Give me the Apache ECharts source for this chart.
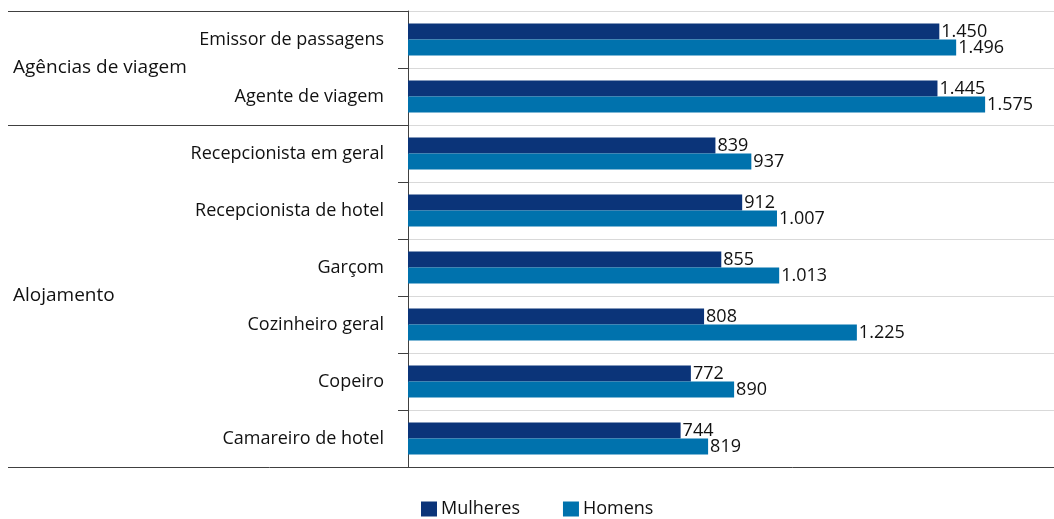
<!DOCTYPE html>
<html><head><meta charset="utf-8">
<script src="https://cdn.jsdelivr.net/npm/echarts@6/dist/echarts.min.js"></script>
<style>html,body{margin:0;padding:0;background:#fff}#c{width:1054px;height:519px}</style>
</head><body><div id="c"></div>
<script>
const categories = ['Emissor de passagens','Agente de viagem','Recepcionista em geral','Recepcionista de hotel','Garçom','Cozinheiro geral','Copeiro','Camareiro de hotel'];
const mulheres = [1450,1445,839,912,855,808,772,744];
const homens = [1496,1575,937,1007,1013,1225,890,819];
const groups = [{name:'Agências de viagem', start:0, end:2},{name:'Alojamento', start:2, end:8}];
const seriesNames = ['Mulheres','Homens'];

const W=1054,H=519, gTop=11, gBottom=52, gLeft=408, lineLeft=8;
const band=(H-gTop-gBottom)/categories.length;
const fmt=v=>String(v).replace(/\B(?=(\d{3})+(?!\d))/g,'.');
const dark='#404040';
const lbl={show:true,position:'right',distance:2,color:'#111',fontFamily:'"Open Sans"',fontSize:18,formatter:p=>fmt(p.value)};

const graphics=[];
const seps=[0].concat(groups.map(g=>g.end));
seps.forEach((k,i)=>{
  const y=gTop+band*k+0.5;
  const last=i===seps.length-1;
  graphics.push({type:'line',z:10,shape:{x1:lineLeft,y1:y,x2:last?W:gLeft,y2:y},style:{stroke:dark,lineWidth:1}});
});
groups.forEach(g=>{
  graphics.push({type:'text',left:13,top:gTop+band*(g.start+g.end)/2-10,style:{text:g.name,font:'19px "Open Sans"',fill:'#111'}});
});

const chart=echarts.init(document.getElementById('c'));
chart.setOption({
  animation:false,
  grid:{left:gLeft,right:0,top:gTop,bottom:gBottom,containLabel:false},
  legend:{left:421,bottom:1,padding:0,itemWidth:16,itemHeight:15,itemGap:43,icon:'rect',textStyle:{fontFamily:'"Open Sans"',fontSize:18,color:'#111',padding:[0,0,0,-1]},data:seriesNames},
  xAxis:{type:'value',min:0,max:1763,axisLabel:{show:false},axisTick:{show:false},splitLine:{show:false},axisLine:{show:false}},
  yAxis:{type:'category',inverse:true,data:categories,
    axisLine:{show:true,lineStyle:{color:dark,width:1}},
    axisTick:{show:true,length:10,lineStyle:{color:dark}},
    axisLabel:{margin:24,fontFamily:'"Open Sans"',fontSize:18,color:'#111'},
    splitLine:{show:true,lineStyle:{color:'#d9d9d9',width:1}}},
  series:[
    {name:seriesNames[0],type:'bar',data:mulheres,barWidth:16,barGap:'0%',itemStyle:{color:'#0b3479'},label:lbl},
    {name:seriesNames[1],type:'bar',data:homens,barWidth:16,barGap:'0%',itemStyle:{color:'#0072ad'},label:lbl}
  ],
  graphic:graphics
});
</script></body></html>
